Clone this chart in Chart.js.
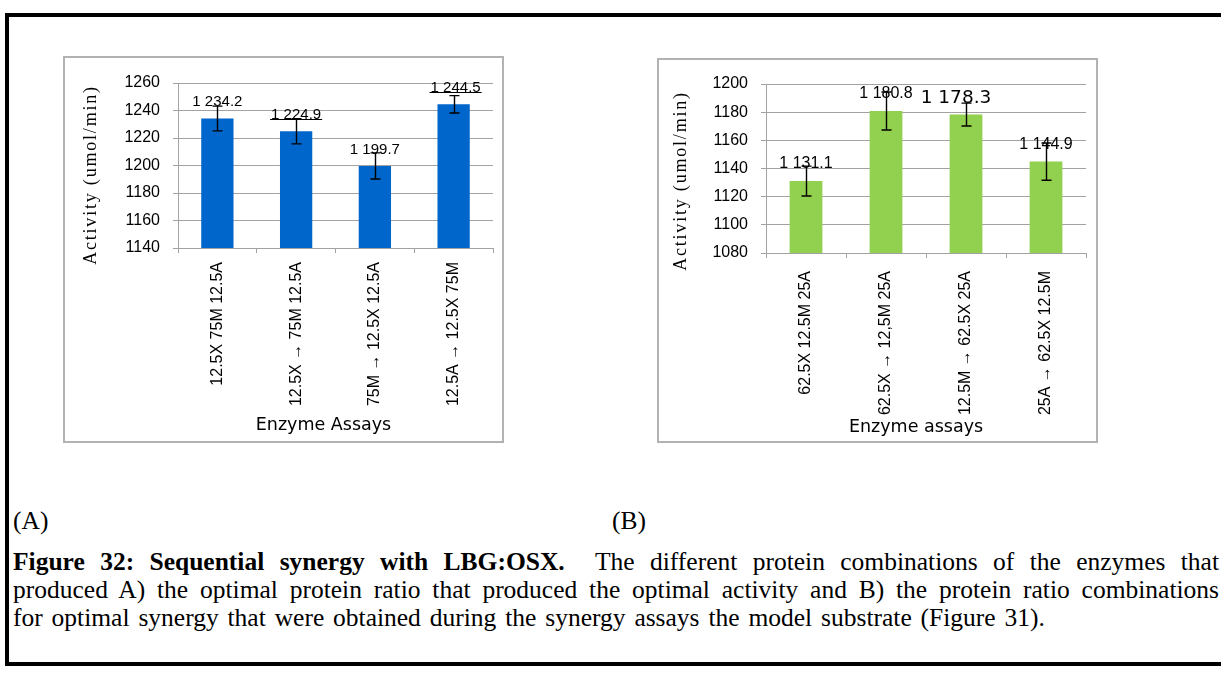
<!DOCTYPE html>
<html>
<head>
<meta charset="utf-8">
<script src="https://cdn.jsdelivr.net/npm/chart.js@4.4.1/dist/chart.umd.min.js"></script>
<style>
  html, body { margin: 0; padding: 0; background: #fff; }
  body { width: 1221px; height: 683px; overflow: hidden; position: relative; }
  .frame { position: absolute; left: 5px; top: 13px; width: 1260px; height: 653px;
           border: 4px solid #000; box-sizing: border-box; }
  .panel { position: absolute; border: 2px solid #b2b2b2; box-sizing: border-box; background: #fff; }
  #panelA { left: 63px; top: 56px; width: 441px; height: 387px; }
  #panelB { left: 657px; top: 58px; width: 441px; height: 385px; }
  .holder { position: relative; }
  #panelA .holder { width: 437px; height: 383px; }
  #panelB .holder { width: 437px; height: 381px; }
  .tag, .line { position: absolute; font-family: "Liberation Serif", "Times New Roman", serif;
                font-size: 25.5px; line-height: 28px; color: #000; white-space: nowrap; }
  .tag { top: 507px; }
  .line { left: 13px; width: 1206px; word-spacing: 2.5px; }
  .just { text-align: justify; text-align-last: justify; }
</style>
</head>
<body>
<div class="frame"></div>

<div class="panel" id="panelA"><div class="holder"><canvas id="chartA"></canvas></div></div>
<div class="panel" id="panelB"><div class="holder"><canvas id="chartB"></canvas></div></div>

<div class="tag" style="left:13px">(A)</div>
<div class="tag" style="left:612px">(B)</div>
<div class="line just" style="top:548px"><b>Figure 32: Sequential synergy with LBG:OSX.</b>&nbsp; The different protein combinations of the enzymes that</div>
<div class="line just" style="top:576px">produced A) the optimal protein ratio that produced the optimal activity and B) the protein ratio combinations</div>
<div class="line" style="top:604px">for optimal synergy that were obtained during the synergy assays the model substrate (Figure 31).</div>

<script>
// Panel A: sequential additions, optimal protein ratio
const assaysA   = ['12.5X 75M 12.5A', '12.5X \u2192 75M 12.5A', '75M \u2192 12.5X 12.5A', '12.5A \u2192 12.5X 75M'];
const activityA = [1234.2, 1224.9, 1199.7, 1244.5];
const errorA    = [9.0, 9.2, 9.5, 6.3];
const ticksA    = [1140, 1160, 1180, 1200, 1220, 1240, 1260];

// Panel B: sequential additions, optimal synergy ratio
const assaysB   = ['62.5X 12.5M 25A', '62.5X \u2192 12,5M 25A', '12.5M \u2192 62.5X 25A', '25A \u2192 62.5X 12.5M'];
const activityB = [1131.1, 1180.8, 1178.3, 1144.9];
const errorB    = [10.6, 13.5, 8.1, 13.2];
const ticksB    = [1080, 1100, 1120, 1140, 1160, 1180, 1200];

const GRID = '#a3a3a3';
const SANS = '"Liberation Sans", Arial, sans-serif';

// "1 234.2" style: one decimal, space as thousands separator
function fmtValue(v) {
  const [int, dec] = v.toFixed(1).split('.');
  return int.replace(/\B(?=(\d{3})+(?!\d))/g, ' ') + '.' + dec;
}

// Error bars, value labels and axis titles
const barExtras = {
  id: 'barExtras',
  afterDatasetsDraw(chart, args, opts) {
    const ctx = chart.ctx;
    const y = chart.scales.y;
    const ds = chart.data.datasets[0];
    const meta = chart.getDatasetMeta(0);
    ctx.save();
    meta.data.forEach((bar, i) => {
      const st = Object.assign({}, opts.label, (opts.labelOverrides || {})[i] || {});
      const txt = fmtValue(ds.data[i]);
      ctx.font = st.font;
      ctx.fillStyle = '#000';
      ctx.textAlign = 'center';
      ctx.textBaseline = 'alphabetic';
      const lx = bar.x + (st.dx || 0);
      const ly = bar.y - st.gap;
      ctx.fillText(txt, lx, ly);
      if (st.underline) {
        const w = ctx.measureText(txt).width;
        ctx.strokeStyle = '#000';
        ctx.lineWidth = 1;
        ctx.beginPath();
        ctx.moveTo(lx - w / 2 - 1, Math.round(ly) + 0.5);
        ctx.lineTo(lx + w / 2 + 1, Math.round(ly) + 0.5);
        ctx.stroke();
      }
    });
    ctx.strokeStyle = '#000';
    ctx.lineWidth = 1.4;
    meta.data.forEach((bar, i) => {
      const v = ds.data[i], e = opts.errors[i];
      const yHi = y.getPixelForValue(v + e);
      const yLo = y.getPixelForValue(v - e);
      const x = Math.round(bar.x) + 0.5;
      ctx.beginPath();
      ctx.moveTo(x, yHi); ctx.lineTo(x, yLo);
      ctx.moveTo(x - opts.cap, yHi); ctx.lineTo(x + opts.cap, yHi);
      ctx.moveTo(x - opts.cap, yLo); ctx.lineTo(x + opts.cap, yLo);
      ctx.stroke();
    });
    ctx.restore();
  },
  afterDraw(chart, args, opts) {
    const ctx = chart.ctx;
    const a = chart.chartArea;
    ctx.save();
    ctx.fillStyle = '#000';
    const xt = opts.xTitle;
    ctx.font = xt.font;
    ctx.textAlign = 'center';
    ctx.textBaseline = 'middle';
    ctx.fillText(xt.text, (a.left + a.right) / 2 + xt.dx, a.bottom + xt.dy);
    const yt = opts.yTitle;
    ctx.translate(a.left + yt.dx, (a.top + a.bottom) / 2 + yt.dy);
    ctx.rotate(-Math.PI / 2);
    ctx.font = yt.font;
    ctx.letterSpacing = yt.spacing;
    ctx.fillText(yt.text, 0, 0);
    ctx.restore();
  }
};

function makeChart(id, cfg) {
  return new Chart(document.getElementById(id), {
    type: 'bar',
    data: {
      labels: cfg.labels,
      datasets: [{
        data: cfg.values,
        backgroundColor: cfg.color,
        borderWidth: 0,
        categoryPercentage: 1,
        barPercentage: 0.41
      }]
    },
    options: {
      responsive: true,
      maintainAspectRatio: false,
      animation: false,
      events: [],
      layout: { padding: cfg.padding },
      scales: {
        x: {
          grid: { offset: true, drawOnChartArea: false, drawTicks: true, tickLength: 5, color: GRID },
          border: { color: GRID },
          ticks: {
            autoSkip: false, minRotation: 90, maxRotation: 90, padding: cfg.xPad,
            color: '#000', font: { family: SANS, size: 16 }
          },
          afterFit(s) { s.height = cfg.xHeight; }
        },
        y: {
          min: cfg.ticks[0],
          max: cfg.ticks[cfg.ticks.length - 1],
          afterBuildTicks(s) { s.ticks = cfg.ticks.map(v => ({ value: v })); },
          grid: { color: GRID, tickLength: 5, drawTicks: true },
          border: { color: GRID },
          ticks: {
            padding: 13, color: '#000',
            font: { family: SANS, size: 16 },
            callback: v => String(v)
          },
          afterFit(s) { s.width = cfg.yWidth; }
        }
      },
      plugins: {
        legend: { display: false },
        tooltip: { enabled: false },
        barExtras: {
          errors: cfg.errors,
          cap: 5,
          label: { font: cfg.labelFont, gap: cfg.labelGap, dx: 0 },
          labelOverrides: cfg.labelOverrides,
          xTitle: { text: cfg.xTitle, font: '17.5px "DejaVu Sans", Verdana, sans-serif', dx: cfg.xTitleDx, dy: cfg.xTitleDy },
          yTitle: { text: 'Activity (umol/min)', font: '18px "Liberation Serif", "Times New Roman", serif',
                    spacing: '1.8px', dx: cfg.yTitleDx, dy: cfg.yTitleDy }
        }
      }
    },
    plugins: [barExtras]
  });
}

makeChart('chartA', {
  labels: assaysA, values: activityA, errors: errorA, ticks: ticksA,
  color: '#0066cc',
  padding: { left: 0, top: 25, right: 9, bottom: 0 },
  yWidth: 113, xHeight: 193, xPad: 9,
  labelFont: '15px ' + SANS, labelGap: 12,
  labelOverrides: { 1: { underline: true }, 3: { underline: true, dx: 2 } },
  xTitle: 'Enzyme Assays', xTitleDx: -12, xTitleDy: 177,
  yTitleDx: -87, yTitleDy: 9.5
});

makeChart('chartB', {
  labels: assaysB, values: activityB, errors: errorB, ticks: ticksB,
  color: '#92d050',
  padding: { left: 0, top: 24, right: 10, bottom: 0 },
  yWidth: 107, xHeight: 188, xPad: 13,
  labelFont: '16px ' + SANS, labelGap: 13,
  labelOverrides: { 2: { font: '18.5px "DejaVu Sans", Verdana, sans-serif', dx: -10, gap: 12 } },
  xTitle: 'Enzyme assays', xTitleDx: -10, xTitleDy: 174,
  yTitleDx: -85, yTitleDy: 12.5
});
</script>
</body>
</html>
